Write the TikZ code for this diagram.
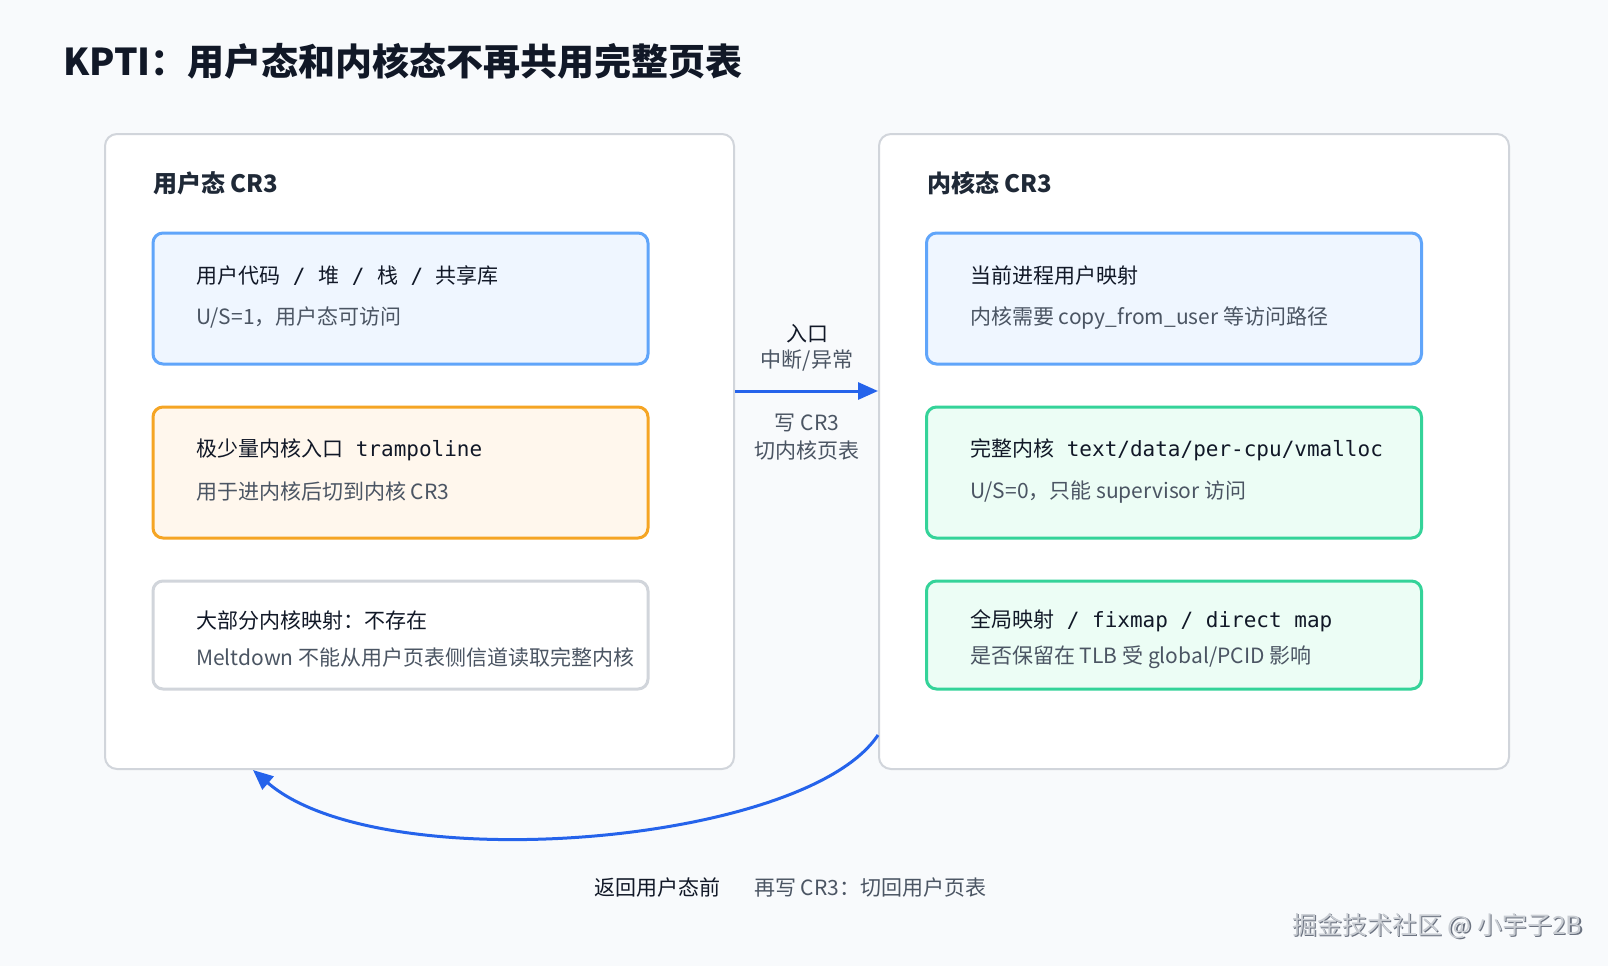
\documentclass[tikz,border=0pt]{standalone}
\usepackage{fontspec}
\setmainfont{Noto Sans CJK SC}
\newfontfamily\monof{DejaVu Sans Mono}
\usetikzlibrary{arrows.meta}
\definecolor{bgc}{HTML}{F8FAFC}
\definecolor{panelb}{HTML}{D1D5DB}
\definecolor{blueb}{HTML}{60A5FA}
\definecolor{bluef}{HTML}{EFF6FF}
\definecolor{orab}{HTML}{F5A524}
\definecolor{oraf}{HTML}{FFF7ED}
\definecolor{grayb}{HTML}{D1D5DB}
\definecolor{greenb}{HTML}{34D399}
\definecolor{greenf}{HTML}{ECFDF5}
\definecolor{arrowc}{HTML}{2563EB}
\definecolor{darkt}{HTML}{111827}
\definecolor{midt}{HTML}{1F2937}
\definecolor{grayt}{HTML}{4B5563}
\definecolor{wmf}{HTML}{C9CDD3}
\definecolor{wms}{HTML}{6B7280}
\tikzset{
  panel/.style={draw=panelb, line width=2pt, fill=white, rounded corners=12pt, inner sep=0pt},
  ibox/.style={line width=3pt, rounded corners=10pt, inner sep=0pt, minimum width=495pt},
  bluebox/.style={ibox, draw=blueb, fill=bluef},
  orabox/.style={ibox, draw=orab, fill=oraf},
  graybox/.style={ibox, draw=grayb, fill=white},
  greenbox/.style={ibox, draw=greenb, fill=greenf},
  ptitle/.style={anchor=west, inner sep=0pt, text=midt, font=\fontsize{24}{28}\selectfont\bfseries},
  lineone/.style={anchor=west, inner sep=0pt, text=darkt, font=\fontsize{21}{25}\selectfont},
  linetwo/.style={anchor=west, inner sep=0pt, text=grayt, font=\fontsize{21}{25}\selectfont},
  lbl/.style={inner sep=0pt, font=\fontsize{21}{25}\selectfont},
  conn/.style={draw=arrowc, line width=3pt, -{Triangle[length=20pt,width=17pt]}},
}
\begin{document}
\begin{tikzpicture}[x=1pt,y=-1pt]
\useasboundingbox (0,0) rectangle (1608,966);
\fill[bgc] (0,0) rectangle (1608,966);

\node[anchor=west, inner sep=0pt, text=darkt, font=\fontsize{37}{42}\selectfont\bfseries] (title) at (63,61) {KPTI：用户态和内核态不再共用完整页表};

% panels
\node[panel, minimum width=629pt, minimum height=635pt] (lp) at (419.5,451.5) {};
\node[panel, minimum width=630pt, minimum height=635pt] (rp) at (1194,451.5) {};

\node[ptitle] (lpt) at (153,183) {用户态 CR3};
\node[ptitle] (rpt) at (927,183) {内核态 CR3};

% left boxes
\node[bluebox, minimum height=131pt] (u1) at (400.5,298.5) {};
\node[orabox, minimum height=131pt] (u2) at (400.5,472.5) {};
\node[graybox, minimum height=108pt] (u3) at (400.5,635) {};

\node[lineone] (u1a) at (196,276) {用户代码{\monof\ /\ }堆{\monof\ /\ }栈{\monof\ /\ }共享库};
\node[linetwo] (u1b) at (196,318) {U/S=1，用户态可访问};
\node[lineone] (u2a) at (196,450) {极少量内核入口{\monof\ trampoline}};
\node[linetwo] (u2b) at (196,492) {用于进内核后切到内核 CR3};
\node[lineone] (u3a) at (196,621) {大部分内核映射：不存在};
\node[linetwo] (u3b) at (196,657) {Meltdown 不能从用户页表侧信道读取完整内核};

% right boxes
\node[bluebox, minimum height=131pt] (k1) at (1174,298.5) {};
\node[greenbox, minimum height=131pt] (k2) at (1174,472.5) {};
\node[greenbox, minimum height=108pt] (k3) at (1174,635) {};

\node[lineone] (k1a) at (970,276) {当前进程用户映射};
\node[linetwo] (k1b) at (970,318) {内核需要 copy\_from\_user 等访问路径};
\node[lineone] (k2a) at (970,450) {完整内核{\monof\ text/data/per-cpu/vmalloc}};
\node[linetwo] (k2b) at (970,492) {U/S=0，只能 supervisor 访问};
\node[lineone] (k3a) at (970,621) {全局映射{\monof\ /\ fixmap\ /\ direct\ map}};
\node[linetwo] (k3b) at (970,657) {是否保留在 TLB 受 global/PCID 影响};

% entry arrow
\draw[conn] ([yshift=60.5pt]lp.east) -- ([yshift=60.5pt]rp.west);
\node[lbl, text=darkt] (e1) at (807,334) {入口};
\node[lbl, text=grayt] (e2) at (807,361) {中断/异常};
\node[lbl, text=grayt] (e3) at (807,423) {写 CR3};
\node[lbl, text=grayt] (e4) at (807,451) {切内核页表};

% return arrow
\coordinate (rs) at ([yshift=-283.5pt]rp.west);
\coordinate (re) at ([xshift=-166.5pt]lp.south);
\draw[conn] (rs) .. controls (805,845) and (380,880) .. (re);

\node[lbl, anchor=west, text=darkt] (b1) at (594,888) {返回用户态前};
\node[lbl, anchor=west, text=grayt] (b2) at (754,888) {再写 CR3：切回用户页表};

% watermark
\node[anchor=west, inner sep=0pt, text=wms, font=\fontsize{25}{29}\selectfont] (wms) at (1293.2,927.2) {掘金技术社区 @ 小宇子2B};
\node[anchor=west, inner sep=0pt, text=wmf, font=\fontsize{25}{29}\selectfont] (wm) at (1292,926) {掘金技术社区 @ 小宇子2B};
\end{tikzpicture}
\end{document}
